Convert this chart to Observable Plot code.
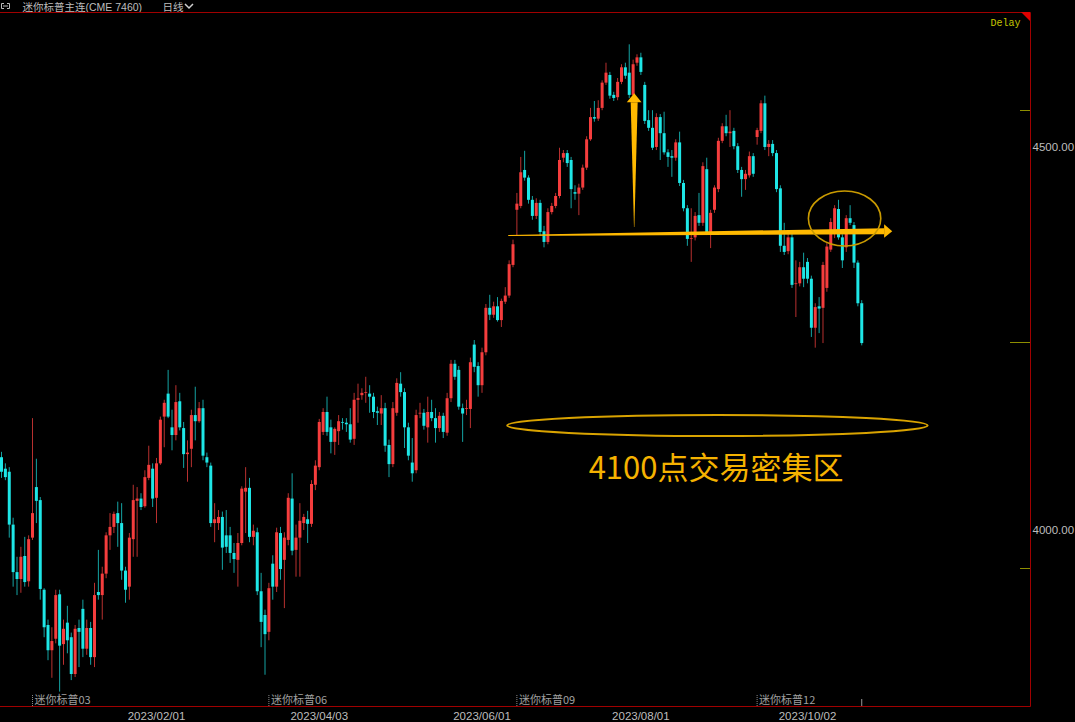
<!DOCTYPE html>
<html><head><meta charset="utf-8">
<script src="https://cdn.jsdelivr.net/npm/d3@7"></script>
<script src="https://cdn.jsdelivr.net/npm/@observablehq/plot@0.6"></script>
<style>
html,body{margin:0;padding:0;background:#000;}
#chart{width:1075px;height:722px;overflow:hidden;}
</style></head><body><div id="chart"></div>
<script>
// ---- data (daily candles, Mini S&P continuous) ----
const opens = [4095,4080,4076,4007,3945,3936,3966,3933,3990,4056,
4039,3922,3876,3843,3858,3916,3851,3879,3860,3812,
3872,3897,3845,3872,3834,3919,3915,3943,3993,4004,
4022,4009,3947,3926,3988,4038,4041,4031,4068,4080,
4042,4087,4148,4178,4134,4124,4168,4133,4099,4106,
4150,4142,4159,4095,4084,4009,4009,4017,3993,3993,
3970,3961,3983,4050,4055,3991,3997,3920,3889,3867,
3956,3926,3996,3961,3987,4041,3974,3990,4009,4014,
4008,4059,4082,4128,4154,4134,4115,4129,4141,4140,
4138,4119,4170,4176,4179,4178,4174,4155,4152,4159,
4111,4086,4153,4191,4180,4134,4088,4078,4152,4153,
4134,4154,4146,4133,4149,4127,4172,4217,4209,4159,
4158,4158,4242,4214,4189,4232,4290,4281,4292,4274,
4298,4306,4346,4418,4423,4470,4460,4431,4410,4427,
4390,4376,4415,4423,4436,4486,4492,4483,4441,4439,
4447,4473,4510,4539,4537,4551,4584,4594,4568,4565,
4585,4604,4597,4568,4610,4617,4581,4535,4525,4500,
4539,4518,4493,4488,4486,4506,4453,4420,4380,4382,
4411,4401,4471,4389,4418,4445,4508,4527,4518,4521,
4501,4470,4458,4463,4488,4513,4521,4557,4500,4504,
4492,4446,4371,4364,4382,4321,4322,4343,4350,4328,
4264,4292,4290,4316,4366,4392,4419,4382,4369,4407,
4398,4349,4296];
const highs = [4102,4087,4082,4016,3965,3978,3991,3993,4146,4093,
4043,3924,3883,3873,3922,3922,3883,3901,3866,3876,
3883,3909,3883,3880,3931,3974,3952,3997,4022,4024,
4037,4035,3952,3996,4059,4056,4048,4078,4110,4087,
4094,4148,4170,4209,4157,4189,4179,4141,4117,4157,
4187,4167,4170,4101,4088,4035,4026,4024,4026,4004,
3983,3996,4057,4082,4068,4007,4003,3944,3896,3931,
3967,4003,4004,3997,4048,4074,4007,4035,4021,4025,
4065,4091,4145,4159,4174,4144,4134,4150,4146,4146,
4159,4179,4191,4185,4200,4189,4179,4161,4176,4166,
4118,4167,4198,4206,4185,4140,4120,4157,4166,4158,
4174,4170,4159,4154,4153,4179,4222,4222,4214,4165,
4170,4225,4248,4219,4238,4295,4307,4298,4304,4302,
4317,4352,4379,4440,4487,4495,4463,4436,4433,4431,
4397,4420,4427,4440,4499,4496,4496,4487,4450,4452,
4477,4514,4551,4560,4561,4587,4610,4598,4572,4590,
4608,4610,4634,4614,4621,4623,4585,4548,4548,4544,
4543,4546,4497,4496,4510,4520,4457,4424,4420,4415,
4440,4480,4486,4418,4450,4512,4531,4542,4548,4525,
4505,4474,4470,4494,4492,4525,4561,4567,4509,4509,
4496,4450,4401,4388,4388,4352,4350,4362,4355,4332,
4296,4304,4350,4375,4407,4424,4431,4386,4411,4424,
4402,4352,4300];
const lows = [4068,4065,3990,3926,3915,3918,3926,3926,3987,4009,
3909,3860,3830,3807,3852,3789,3824,3839,3804,3808,
3821,3834,3837,3824,3821,3909,3883,3937,3974,3996,
3978,3935,3905,3909,3965,3965,4026,4029,4065,4030,
4009,4085,4108,4146,4104,4117,4130,4081,4063,4082,
4117,4140,4091,4082,4004,3984,4000,3948,3970,3957,
3944,3926,3980,3996,3984,3980,3915,3847,3811,3856,
3909,3919,3935,3898,3980,3967,3939,3939,4000,3983,
4004,4052,4078,4124,4123,4100,4098,4111,4131,4128,
4114,4111,4140,4170,4166,4153,4146,4137,4137,4102,
4069,4082,4149,4174,4107,4091,4063,4074,4146,4131,
4114,4142,4114,4128,4120,4123,4167,4196,4157,4115,
4150,4133,4206,4174,4179,4228,4274,4277,4272,4265,
4295,4303,4343,4385,4420,4456,4426,4405,4406,4384,
4369,4373,4412,4420,4433,4480,4474,4420,4431,4411,
4444,4470,4508,4533,4534,4548,4581,4563,4560,4561,
4582,4589,4564,4565,4606,4594,4530,4521,4496,4496,
4483,4490,4474,4461,4482,4449,4416,4371,4350,4378,
4397,4397,4385,4368,4414,4441,4505,4514,4500,4497,
4466,4435,4444,4460,4461,4503,4518,4496,4488,4488,
4441,4363,4359,4360,4316,4278,4318,4317,4322,4252,
4238,4257,4244,4311,4363,4381,4379,4342,4363,4398,
4342,4292,4241];
const closes = [4076,4069,4007,3945,3936,3965,3932,3988,4022,4038,
3923,3873,3843,3855,3915,3849,3871,3856,3812,3871,
3867,3845,3872,3834,3915,3915,3943,3993,4004,4021,
4009,3947,3922,3990,4039,4041,4030,4069,4085,4041,
4087,4144,4166,4148,4124,4167,4134,4099,4101,4150,
4142,4159,4097,4088,4009,4014,4017,3977,3978,3970,
3962,3983,4054,4055,3991,3999,3920,3880,3864,3924,
3926,3997,3949,3990,4042,3973,3990,4012,4017,4008,
4060,4084,4141,4154,4128,4115,4132,4142,4140,4138,
4118,4170,4172,4179,4180,4174,4154,4153,4159,4110,
4086,4159,4192,4180,4134,4097,4074,4150,4153,4136,
4154,4146,4133,4149,4128,4172,4217,4200,4161,4152,
4159,4219,4213,4189,4232,4290,4281,4292,4274,4299,
4306,4347,4373,4426,4467,4460,4431,4410,4427,4389,
4376,4415,4423,4436,4483,4492,4479,4445,4439,4447,
4473,4510,4539,4537,4551,4584,4597,4567,4564,4585,
4604,4593,4568,4608,4617,4598,4534,4525,4499,4539,
4518,4493,4487,4486,4506,4453,4420,4380,4381,4410,
4401,4475,4389,4414,4447,4508,4527,4518,4520,4501,
4470,4458,4465,4488,4465,4522,4557,4500,4504,4492,
4445,4371,4363,4382,4320,4322,4343,4328,4328,4264,
4291,4289,4346,4370,4402,4420,4382,4352,4407,4401,
4349,4296,4244];

const dateTickIndex = [40, 82, 124, 165, 208];
const dateTickLabels = ["2023/02/01", "2023/04/03", "2023/06/01", "2023/08/01", "2023/10/02"];
const rollIndex = [8, 69, 133, 195];
const rollLabels = ["迷你标普03", "迷你标普06", "迷你标普09", "迷你标普12"];
const priceTicks = [4000, 4500];
const markerLevels = [4548, 4245, 3950];
const markerLengths = [10, 20, 10];

// annotations (index / price units)
const arrowShaftH = [{i: 130.9, lo: 4383.8, hi: 4385.2}, {i: 227.9, lo: 4386.1, hi: 4393.9}];
const arrowHeadH = [{i: 227.9, lo: 4381.6, hi: 4399.1}, {i: 230.0, lo: 4390.0, hi: 4390.0}];
const arrowShaftV = [{p: 4395.6, a: 163.35, b: 163.45}, {p: 4558.5, a: 162.5, b: 164.3}];
const arrowHeadV = [{p: 4558.5, a: 161.5, b: 165.3}, {p: 4570.1, a: 163.4, b: 163.4}];
const ellipseNotes = [
  {cx: 217.7, cy: 4406.7, rx: 9.34, ry: 35.9, w: 1.6, color: "#c99a00"},
  {cx: 184.9, cy: 4136.4, rx: 54.25, ry: 13.7, w: 2, color: "#d9a300"}
];
const textNotes = [{i: 184.4, p: 4079.7, text: "4100点交易密集区"}];

const candles = opens.map((o, i) => ({i, open: o, high: highs[i], low: lows[i], close: closes[i]}));
const up = d => d.close >= d.open;
const GOLD = "#ffb900";
const CJK = "'Noto Sans CJK SC', 'Noto Sans', sans-serif";
const HEAD = "'Liberation Sans', 'Noto Sans CJK SC', sans-serif";

const chart = Plot.plot({
  width: 1075, height: 722,
  marginTop: 12, marginRight: 45, marginBottom: 16, marginLeft: 0,
  style: {background: "#000", color: "#bdbdbd", fontFamily: "'Liberation Sans', Arial, sans-serif", fontSize: "11.5px"},
  x: {type: "linear", domain: [-0.26, 265.55], axis: "bottom", ticks: dateTickIndex,
      tickFormat: v => dateTickLabels[dateTickIndex.indexOf(v)] || "", tickSize: 0, tickPadding: 5, label: null},
  y: {type: "linear", domain: [3770.2, 4676.2], axis: "right", ticks: priceTicks,
      tickFormat: d3.format(".2f"), tickSize: 0, tickPadding: 2, label: null},
  color: {type: "identity"},
  marks: [
    Plot.ruleX(candles, {x: "i", y1: "low", y2: "high", stroke: d => up(d) ? "#b8302f" : "#14a3a3", strokeWidth: 1}),
    Plot.ruleX(candles, {x: "i", y1: "open", y2: "close", stroke: d => up(d) ? "#f53d3d" : "#1ee6e6", strokeWidth: 3}),
    Plot.areaY(arrowShaftH, {x: "i", y1: "lo", y2: "hi", fill: GOLD}),
    Plot.areaY(arrowHeadH, {x: "i", y1: "lo", y2: "hi", fill: GOLD}),
    Plot.areaX(arrowShaftV, {y: "p", x1: "a", x2: "b", fill: GOLD}),
    Plot.areaX(arrowHeadV, {y: "p", x1: "a", x2: "b", fill: GOLD}),
    Plot.text(textNotes, {x: "i", y: "p", text: "text", fill: "#f5b200", fontSize: 31, fontFamily: CJK,
      textAnchor: "middle", lineAnchor: "middle"}),
    Plot.ruleX(rollIndex, {x: d => d, insetTop: 683, stroke: "#8a8a8a", strokeDasharray: "1,1"}),
    Plot.text(rollIndex, {x: d => d, text: (d, i) => rollLabels[i], frameAnchor: "bottom", dy: -6, dx: 2,
      lineAnchor: "middle", textAnchor: "start", fill: "#a0a0a0", fontSize: 11, fontFamily: CJK}),
    Plot.ruleX([candles.length - 1], {x: d => d, insetTop: 687, stroke: "#9a9a9a"}),
    Plot.text(["迷你标普主连(CME 7460)"], {frameAnchor: "top-left", dx: 22, dy: -5, textAnchor: "start",
      lineAnchor: "middle", fill: "#bdbdbd", fontSize: 10.5, fontFamily: HEAD}),
    Plot.text(["日线"], {frameAnchor: "top-left", dx: 162, dy: -5, textAnchor: "start",
      lineAnchor: "middle", fill: "#bdbdbd", fontSize: 10.5, fontFamily: HEAD}),
    Plot.text(["Delay"], {frameAnchor: "top-right", dx: -10, dy: 10, textAnchor: "end", lineAnchor: "middle",
      fill: "#c6c600", fontSize: 10, fontFamily: "'Liberation Mono', 'DejaVu Sans Mono', monospace"})
  ]
});

document.getElementById("chart").appendChild(chart);

// decorations drawn with the plot's own scales
const sx = chart.scale("x"), sy = chart.scale("y");
const svg = d3.select(chart);
const frameL = 0, frameR = 1030, frameT = 12, frameB = 706;
const g = svg.append("g");
for (const e of ellipseNotes) {
  const cx = sx.apply(e.cx), cy = sy.apply(e.cy);
  const rx = Math.abs(sx.apply(e.cx + e.rx) - cx), ry = Math.abs(sy.apply(e.cy + e.ry) - cy);
  g.append("ellipse").attr("cx", cx).attr("cy", cy).attr("rx", rx).attr("ry", ry)
    .attr("fill", "none").attr("stroke", e.color).attr("stroke-width", e.w);
}
markerLevels.forEach((lv, k) => {
  const y = Math.round(sy.apply(lv)) + 0.5;
  g.append("line").attr("x1", frameR - markerLengths[k]).attr("x2", frameR).attr("y1", y).attr("y2", y)
    .attr("stroke", "#8e8e00").attr("stroke-width", 1);
});
// frame (top, right, bottom)
g.append("path").attr("d", `M${frameL},${frameT + 0.5}H${frameR + 0.5}V${frameB + 0.5}H${frameL}`)
  .attr("fill", "none").attr("stroke", "#a00000").attr("stroke-width", 1);
// red corner flag
g.append("path").attr("d", `M${frameR - 9},${frameT}L${frameR},${frameT}L${frameR},${frameT + 9}Z`).attr("fill", "#e00000");
// header icon + chevron
g.append("path").attr("d", "M4,3.5H1.5V8.5H4M7,3.5H9.5V8.5H7M3,6H8")
  .attr("fill", "none").attr("stroke", "#bdbdbd").attr("stroke-width", 1);
g.append("path").attr("d", "M185,4L189,8L193,4").attr("fill", "none").attr("stroke", "#cfcfcf").attr("stroke-width", 1.5);
</script></body></html>
